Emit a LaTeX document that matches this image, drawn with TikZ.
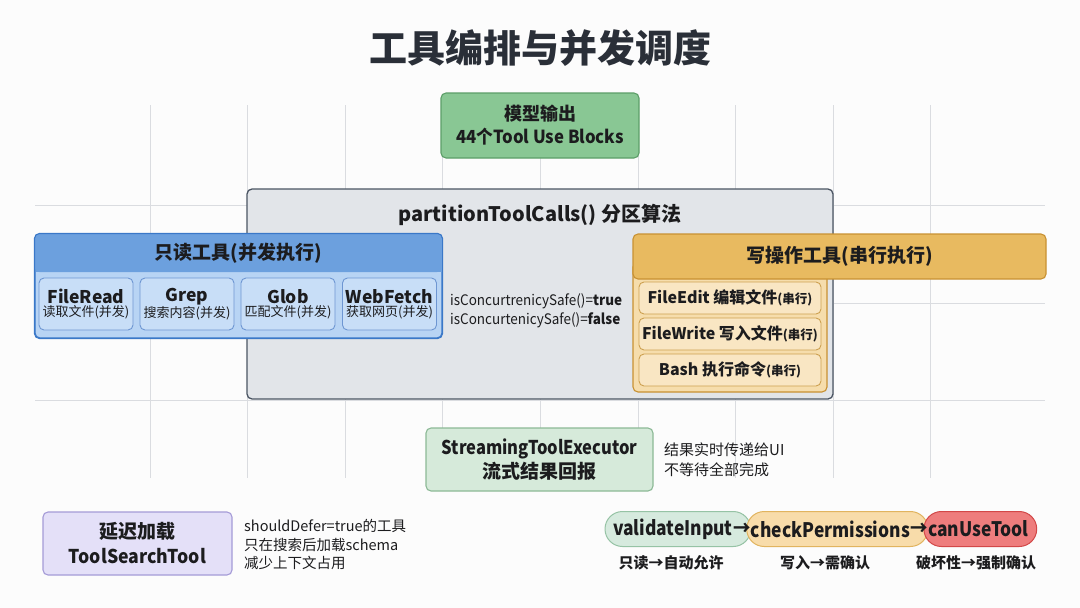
\documentclass[tikz,border=0pt]{standalone}
\usepackage{fontspec}
\setmainfont{Noto Sans CJK SC}
\newfontfamily\narrowfont{Noto Sans CJK SC}[FakeStretch=0.87]
\newfontfamily\semifont{Noto Sans CJK SC}[FakeStretch=0.93]
\usetikzlibrary{calc}
\definecolor{ink}{RGB}{28,28,30}
\definecolor{titleink}{RGB}{42,47,56}
\definecolor{pagebg}{RGB}{252,252,252}
\definecolor{gridc}{RGB}{218,220,224}
\definecolor{greenF}{RGB}{137,199,148}
\definecolor{greenB}{RGB}{92,158,104}
\definecolor{partF}{RGB}{226,229,233}
\definecolor{partB}{RGB}{75,85,99}
\definecolor{blueH}{RGB}{108,160,222}
\definecolor{blueBody}{RGB}{184,212,244}
\definecolor{blueB}{RGB}{58,120,200}
\definecolor{blueIF}{RGB}{200,222,247}
\definecolor{blueIB}{RGB}{110,150,210}
\definecolor{yelH}{RGB}{232,186,96}
\definecolor{yelB}{RGB}{200,145,50}
\definecolor{yelBody}{RGB}{246,221,172}
\definecolor{yelIF}{RGB}{249,230,195}
\definecolor{yelIB}{RGB}{205,160,80}
\definecolor{strF}{RGB}{214,234,218}
\definecolor{strB}{RGB}{140,185,150}
\definecolor{purF}{RGB}{228,224,248}
\definecolor{purB}{RGB}{165,155,215}
\definecolor{pillGF}{RGB}{214,234,222}
\definecolor{pillGB}{RGB}{150,195,165}
\definecolor{pillOF}{RGB}{248,220,170}
\definecolor{pillOB}{RGB}{225,180,95}
\definecolor{pillRF}{RGB}{238,125,125}
\definecolor{pillRB}{RGB}{210,72,72}
\newcommand\fsz[2]{\fontsize{#1}{#2}\selectfont}
\pgfdeclarelayer{bg}
\pgfsetlayers{bg,main}
\tikzset{
  gridline/.style={draw=gridc, line width=0.9pt},
  box/.style={rounded corners=5pt, line width=1.1pt, inner sep=0pt, align=center, text=ink},
  ibox/.style={box, line width=0.9pt, draw=blueIB, fill=blueIF, minimum width=94pt, minimum height=52pt},
  ybox/.style={box, line width=0.9pt, draw=yelIB, fill=yelIF, minimum width=182pt, minimum height=32pt, font=\bfseries\fsz{16}{19}},
  lbl/.style={text=ink, inner sep=0pt},
  pilltext/.style={text=ink, inner sep=0pt, font=\narrowfont\bfseries\fsz{20}{24}},
  pill/.style={rounded corners=17.5pt, line width=1pt},
}
\begin{document}
\begin{tikzpicture}[x=1pt,y=-1pt]
\useasboundingbox (0,0) rectangle (1080,608);
\begin{pgfonlayer}{bg}
\fill[pagebg] (0,0) rectangle (1080,608);
\foreach \i in {0,...,8} \draw[gridline] ({150+97.6*\i},105) -- ({150+97.6*\i},478);
\foreach \y in {205,303,400} \draw[gridline] (35,\y) -- (1045,\y);
\end{pgfonlayer}

% title
\node[lbl, text=titleink, font=\bfseries\fsz{38}{44}] (title) at (540,48) {工具编排与并发调度};

% model output
\node[box, draw=greenB, fill=greenF, minimum width=198pt, minimum height=65pt, font=\bfseries\fsz{18}{23}] (model) at (540,125.5) {模型输出\\{\semifont 44个Tool Use Blocks}};

% partition box
\node[box, draw=partB, fill=partF, minimum width=586pt, minimum height=210pt, line width=1.3pt] (part) at (540,294) {};
\node[lbl, font=\bfseries\fsz{20}{24}] (partt) at (540,215) {partitionToolCalls() 分区算法};

% read-only group
\node[box, draw=blueB, fill=blueBody, minimum width=407pt, minimum height=104pt] (ro) at (238.5,286) {};
\fill[blueH, rounded corners=5pt] (ro.north west) rectangle (442,272);
\fill[blueH] (35.5,262) rectangle (441.5,272);
\draw[blueB, line width=1.1pt, rounded corners=5pt] (ro.north west) rectangle (ro.south east);
\node[lbl, font=\bfseries\fsz{19}{23}] (roh) at (238.5,253) {只读工具(并发执行)};
\node[ibox] (fr) at (86,304) {\bfseries\fsz{17.5}{19}FileRead\\[1pt]\fsz{13}{15}读取文件(并发)};
\node[ibox] (gr) at (187,304) {\bfseries\fsz{17.5}{19}Grep\\[1pt]\fsz{13}{15}搜索内容(并发)};
\node[ibox] (gl) at (288,304) {\bfseries\fsz{17.5}{19}Glob\\[1pt]\fsz{13}{15}匹配文件(并发)};
\node[ibox] (wf) at (389.5,304) {\bfseries\fsz{17.5}{19}WebFetch\\[1pt]\fsz{13}{15}获取网页(并发)};

% concurrency note
\node[lbl, anchor=west, align=left, font=\semifont\fsz{14.5}{19}] (cs) at (450,311) {isConcurtrenicySafe()=\textbf{true}\\isConcurtenicySafe()=\textbf{false}};

% write group
\node[box, draw=yelB, fill=yelBody, minimum width=194pt, minimum height=130pt] (wb) at (730,327) {};
\node[box, draw=yelB, fill=yelH, minimum width=413pt, minimum height=45pt, font=\bfseries\fsz{19}{23}] (wh) at (839.5,256.5) {写操作工具(串行执行)};
\node[ybox] (fe) at (730,298) {FileEdit 编辑文件{\fsz{12.5}{15}(串行)}};
\node[ybox] (fw) at (730,334) {FileWrite 写入文件{\fsz{12.5}{15}(串行)}};
\node[ybox] (bs) at (730,370) {Bash 执行命令{\fsz{12.5}{15}(串行)}};

% streaming
\node[box, draw=strB, fill=strF, minimum width=227pt, minimum height=63pt, font=\bfseries\fsz{19}{24}] (stream) at (539.5,459.5) {{\narrowfont StreamingToolExecutor}\\流式结果回报};
\node[lbl, anchor=west, align=left, font=\fsz{15}{20}] (streamnote) at (664,460) {结果实时传递给UI\\不等待全部完成};

% deferred loading
\node[box, draw=purB, fill=purF, minimum width=189pt, minimum height=63pt, font=\bfseries\fsz{19}{25}] (defer) at (137.5,543.5) {延迟加载\\{\semifont ToolSearchTool}};
\node[lbl, anchor=west, align=left, font=\fsz{14.5}{18.5}] (defernote) at (244,544.5) {shouldDefer=true的工具\\只在搜索后加载schema\\减少上下文占用};

% permission chain
\node[pilltext, anchor=west] (vi) at (613,529) {validateInput};
\node[pilltext, anchor=west] (a1) at (vi.east) {→};
\node[pilltext, anchor=west] (cp) at (a1.east) {checkPermissions};
\node[pilltext, anchor=west] (a2) at (cp.east) {→};
\node[pilltext, anchor=west] (cu) at (a2.east) {canUseTool};
\begin{pgfonlayer}{bg}
\draw[pill, draw=pillGB, fill=pillGF] ($(vi.west)+(-8,-17.5)$) rectangle ($(a1.east)+(0,17.5)$);
\draw[pill, draw=pillOB, fill=pillOF] ($(a1.east)+(-4,-17.5)$) rectangle ($(a2.east)+(0,17.5)$);
\draw[pill, draw=pillRB, fill=pillRF] ($(a2.east)+(-4,-17.5)$) rectangle ($(cu.east)+(8,17.5)$);
\end{pgfonlayer}
\node[lbl, font=\bfseries\fsz{15}{18}] (l1) at (671,563) {只读→自动允许};
\node[lbl, font=\bfseries\fsz{15}{18}] (l2) at (825,563) {写入→需确认};
\node[lbl, font=\bfseries\fsz{15}{18}] (l3) at (976,563) {破坏性→强制确认};
\end{tikzpicture}
\end{document}
